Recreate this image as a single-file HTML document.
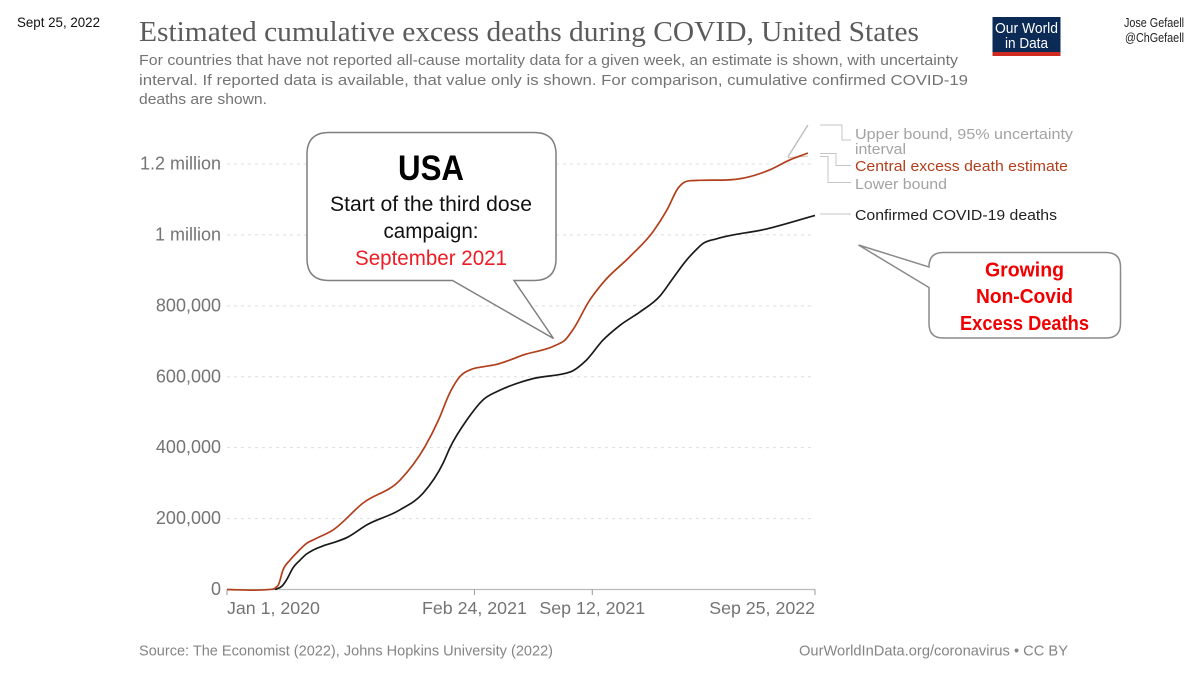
<!DOCTYPE html>
<html lang="en">
<head>
<meta charset="utf-8">
<title>Estimated cumulative excess deaths during COVID, United States</title>
<style>
html,body{margin:0;padding:0;background:#fff;width:1200px;height:675px;overflow:hidden}
svg{display:block}
text{font-family:"Liberation Sans",Arial,sans-serif}
.serif{font-family:"Liberation Serif",serif}
</style>
</head>
<body>
<svg id="chart" width="1200" height="675" viewBox="0 0 1200 675" xmlns="http://www.w3.org/2000/svg">
  <rect x="0" y="0" width="1200" height="675" fill="#ffffff"/>

  <text x="17" y="27" font-size="14" fill="#111" textLength="83" lengthAdjust="spacingAndGlyphs">Sept 25, 2022</text>
  <text class="serif" x="139" y="41" font-size="29" fill="#5b5b5b" textLength="780" lengthAdjust="spacingAndGlyphs">Estimated cumulative excess deaths during COVID, United States</text>
  <g font-size="15" fill="#747474">
    <text x="139" y="65" textLength="819" lengthAdjust="spacingAndGlyphs">For countries that have not reported all-cause mortality data for a given week, an estimate is shown, with uncertainty</text>
    <text x="139" y="85" textLength="829" lengthAdjust="spacingAndGlyphs">interval. If reported data is available, that value only is shown. For comparison, cumulative confirmed COVID-19</text>
    <text x="139" y="104" textLength="128" lengthAdjust="spacingAndGlyphs">deaths are shown.</text>
  </g>

  <g>
    <rect x="992.5" y="17" width="68" height="35" fill="#0b2a55"/>
    <rect x="992.5" y="52" width="68" height="4" fill="#cf2a20"/>
    <text x="995" y="33" font-size="14.5" fill="#fff" textLength="63" lengthAdjust="spacingAndGlyphs">Our World</text>
    <text x="1005" y="48" font-size="14.5" fill="#fff" textLength="43" lengthAdjust="spacingAndGlyphs">in Data</text>
  </g>

  <text x="1184" y="27" font-size="12.5" fill="#222" text-anchor="end" textLength="60" lengthAdjust="spacingAndGlyphs">Jose Gefaell</text>
  <text x="1184" y="42" font-size="12.5" fill="#222" text-anchor="end" textLength="59" lengthAdjust="spacingAndGlyphs">@ChGefaell</text>

  <g id="grid"></g>
  <g id="yticks"></g>
  <g id="xaxis"></g>
  <g id="series"></g>

  <g fill="none" stroke-width="1">
    <polyline points="820,125 842,125 842,140 851,140" stroke="#c4c4c4"/>
    <polyline points="820,153.5 836,153.5 836,165.5 851,165.5" stroke="#c4c4c4"/>
    <polyline points="820,156.5 828,156.5 828,182.5 851,182.5" stroke="#c4c4c4"/>
    <polyline points="820,214 851,214" stroke="#c4c4c4"/>
  </g>
  <g font-size="15">
    <text x="855" y="139" fill="#a3a3a3" textLength="218" lengthAdjust="spacingAndGlyphs">Upper bound, 95% uncertainty</text>
    <text x="855" y="154" fill="#a3a3a3" textLength="51" lengthAdjust="spacingAndGlyphs">interval</text>
    <text x="855" y="171" fill="#b13f1c" textLength="213" lengthAdjust="spacingAndGlyphs">Central excess death estimate</text>
    <text x="855" y="189" fill="#a3a3a3" textLength="92" lengthAdjust="spacingAndGlyphs">Lower bound</text>
    <text x="855" y="220" fill="#222" textLength="202" lengthAdjust="spacingAndGlyphs">Confirmed COVID-19 deaths</text>
  </g>

  <g>
    <path d="M329,132.5 H534 Q556,132.5 556,154.5 V258.5 Q556,280.5 534,280.5 H514 L553.5,338.5 L452.5,280.5 H329 Q307,280.5 307,258.5 V154.5 Q307,132.5 329,132.5 Z" fill="#fff" stroke="#7f7f7f" stroke-width="1.5"/>
    <text x="431" y="180" font-size="35" font-weight="bold" fill="#000" text-anchor="middle" textLength="66" lengthAdjust="spacingAndGlyphs">USA</text>
    <text x="431" y="211" font-size="21" fill="#111" text-anchor="middle" textLength="202" lengthAdjust="spacingAndGlyphs">Start of the third dose</text>
    <text x="431" y="238" font-size="21" fill="#111" text-anchor="middle" textLength="95" lengthAdjust="spacingAndGlyphs">campaign:</text>
    <text x="431" y="265" font-size="21" fill="#ee1c25" text-anchor="middle" textLength="152" lengthAdjust="spacingAndGlyphs">September 2021</text>
  </g>

  <g>
    <path d="M943,252.5 H1106 Q1120.5,252.5 1120.5,267 V323.5 Q1120.5,338 1106,338 H943 Q929,338 929,323.5 V287.5 L858.5,245 L929,267 Q929,252.5 943,252.5 Z" fill="#fff" stroke="#8a8a8a" stroke-width="1.5"/>
    <text x="1024.5" y="276.5" font-size="20" font-weight="bold" fill="#f00000" text-anchor="middle" textLength="79" lengthAdjust="spacingAndGlyphs">Growing</text>
    <text x="1024.5" y="303" font-size="20" font-weight="bold" fill="#f00000" text-anchor="middle" textLength="97" lengthAdjust="spacingAndGlyphs">Non-Covid</text>
    <text x="1024.5" y="330" font-size="20" font-weight="bold" fill="#f00000" text-anchor="middle" textLength="129" lengthAdjust="spacingAndGlyphs">Excess Deaths</text>
  </g>

  <text x="139" y="655.5" font-size="14.5" fill="#858585" textLength="414" lengthAdjust="spacingAndGlyphs">Source: The Economist (2022), Johns Hopkins University (2022)</text>
  <text x="799" y="655.5" font-size="14.5" fill="#858585" textLength="269" lengthAdjust="spacingAndGlyphs">OurWorldInData.org/coronavirus • CC BY</text>
</svg>

<script>
// Chart data: days since Jan 1, 2020 and cumulative deaths
var excessDays = [0, 44, 76, 87, 95, 107, 118, 135, 149, 180, 231, 294, 336, 359, 378, 395, 415, 434, 458, 480, 502, 557, 574, 587, 616, 638, 684, 723, 747, 766, 774, 786, 803, 848, 879, 922, 956, 986];
var excessValues = [0, -2000, 500, 12700, 55000, 83000, 103000, 130000, 142000, 168000, 244000, 309000, 403000, 478000, 554000, 600000, 621000, 628000, 635000, 647000, 661000, 688000, 704000, 732000, 817000, 865000, 939000, 1009000, 1071000, 1133000, 1146000, 1153000, 1154000, 1155000, 1161000, 1184000, 1212000, 1231000];
var confirmedDays = [81, 93, 101, 112, 124, 135, 146, 163, 180, 203, 237, 294, 333, 367, 379, 407, 436, 458, 480, 520, 582, 610, 638, 667, 701, 735, 757, 781, 795, 808, 831, 916, 998];
var confirmedValues = [0, 9000, 27000, 61000, 83000, 100000, 111000, 123000, 132000, 146000, 182000, 225000, 272000, 357000, 402000, 478000, 537000, 558000, 574000, 595000, 613000, 647000, 703000, 745000, 783000, 828000, 878000, 931000, 956000, 976000, 989000, 1017000, 1055000];
var upperDays = [952, 986];
var upperValues = [1220000, 1310000];
var lowerDays = [952, 986];
var lowerValues = [1218000, 1222000];
var yTickValues = [0, 200000, 400000, 600000, 800000, 1000000, 1200000];
var yTickLabels = ["0", "200,000", "400,000", "600,000", "800,000", "1 million", "1.2 million"];
var xTickDays = [0, 420, 620, 998];
var xTickLabels = ["Jan 1, 2020", "Feb 24, 2021", "Sep 12, 2021", "Sep 25, 2022"];

var NS = "http://www.w3.org/2000/svg";
function xScale(day) { return 227 + (day / 998) * 588; }
function yScale(value) { return 589.5 - (value / 1200000) * 425.5; }

function make(tag, attrs, parent) {
  var el = document.createElementNS(NS, tag);
  for (var k in attrs) { el.setAttribute(k, attrs[k]); }
  parent.appendChild(el);
  return el;
}

// Monotone cubic path through the scaled data points
function smoothPath(days, values) {
  var xs = days.map(xScale), ys = values.map(yScale), n = xs.length;
  var slopes = [], tangents = [];
  for (var i = 0; i < n - 1; i++) { slopes.push((ys[i + 1] - ys[i]) / (xs[i + 1] - xs[i])); }
  for (var j = 0; j < n; j++) {
    if (j === 0) { tangents.push(slopes[0]); continue; }
    if (j === n - 1) { tangents.push(slopes[n - 2]); continue; }
    var a = slopes[j - 1], b = slopes[j];
    if (a * b <= 0) { tangents.push(0); continue; }
    var h0 = xs[j] - xs[j - 1], h1 = xs[j + 1] - xs[j];
    var blend = (a * h1 + b * h0) / (h0 + h1);
    var limit = 2 * Math.min(Math.abs(a), Math.abs(b));
    tangents.push((a > 0 ? 1 : -1) * Math.min(Math.abs(blend), limit));
  }
  var s = "M" + xs[0].toFixed(1) + "," + ys[0].toFixed(1);
  for (var k = 0; k < n - 1; k++) {
    var h = (xs[k + 1] - xs[k]) / 3;
    s += "C" + (xs[k] + h).toFixed(1) + "," + (ys[k] + tangents[k] * h).toFixed(1) + " " +
         (xs[k + 1] - h).toFixed(1) + "," + (ys[k + 1] - tangents[k + 1] * h).toFixed(1) + " " +
         xs[k + 1].toFixed(1) + "," + ys[k + 1].toFixed(1);
  }
  return s;
}

var grid = document.getElementById("grid");
var yticks = document.getElementById("yticks");
yTickValues.forEach(function (v, i) {
  if (v !== 0) {
    var line = make("line", { x1: 227, x2: 815, y1: yScale(v), y2: yScale(v), stroke: "#dddddd", "stroke-width": 1, "stroke-dasharray": "3,4" }, grid);
    
    
  }
  var label = make("text", { x: 221, y: yScale(v) + 5.5, "font-size": 18, fill: "#747474", "text-anchor": "end" }, yticks);
  
  
  label.textContent = yTickLabels[i];
});

var xaxis = document.getElementById("xaxis");
var axisLine = make("line", { x1: 227, x2: 815, y1: 589.5, y2: 589.5, stroke: "#bbbbbb", "stroke-width": 1.2 }, xaxis);


xTickDays.forEach(function (d, i) {
  var x = xScale(d);
  var tick = make("line", { x1: x, x2: x, y1: 589.5, y2: 595, stroke: "#999999", "stroke-width": 1 }, xaxis);
  
  
  var anchor = i === 0 ? "start" : (i === xTickDays.length - 1 ? "end" : "middle");
  var label = make("text", { x: x, y: 614, "font-size": 17.8, fill: "#747474", "text-anchor": anchor }, xaxis);
  
  
  label.textContent = xTickLabels[i];
});

var series = document.getElementById("series");
var upperLine = make("path", { d: smoothPath(upperDays, upperValues), fill: "none", stroke: "#bdbdbd", "stroke-width": 1.4 }, series);


var lowerLine = make("path", { d: smoothPath(lowerDays, lowerValues), fill: "none", stroke: "#d9c4bc", "stroke-width": 1.2 }, series);


var confirmedLine = make("path", { d: smoothPath(confirmedDays, confirmedValues), fill: "none", stroke: "#1a1a1a", "stroke-width": 1.7, "stroke-linejoin": "round" }, series);


var excessLine = make("path", { d: smoothPath(excessDays, excessValues), fill: "none", stroke: "#b13f1c", "stroke-width": 1.7, "stroke-linejoin": "round" }, series);


</script>
</body>
</html>
